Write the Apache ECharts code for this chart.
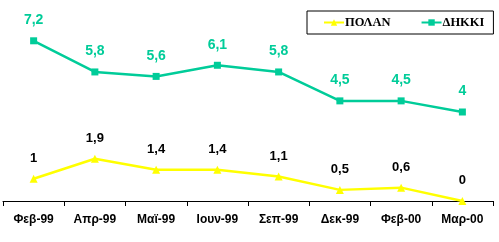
<!DOCTYPE html>
<html><head><meta charset="utf-8">
<script src="https://cdn.jsdelivr.net/npm/echarts@6/dist/echarts.min.js"></script>
<style>html,body{margin:0;padding:0;background:#fff}#c{width:499px;height:242px}</style>
</head><body><div id="c"></div>
<script>
var categories = ['Φεβ-99','Απρ-99','Μαϊ-99','Ιουν-99','Σεπ-99','Δεκ-99','Φεβ-00','Μαρ-00'];
var polan = [1, 1.9, 1.4, 1.4, 1.1, 0.5, 0.6, 0];
var dikki = [7.2, 5.8, 5.6, 6.1, 5.8, 4.5, 4.5, 4];
var seriesNames = ['ΠΟΛΑΝ', 'ΔΗΚΚΙ'];

var fmt = function(p){ return String(p.value).replace('.', ','); };
var chart = echarts.init(document.getElementById('c'), null, {renderer:'canvas'});
chart.setOption({
  animation:false,
  backgroundColor:'#fff',
  grid:{left:3, right:6, top:23, bottom:41, containLabel:false},
  legend:{
    left:307, top:11,
    padding:[5,9,5,16],
    itemGap:30, itemWidth:20, itemHeight:8,
    borderColor:'#000', borderWidth:1,
    textStyle:{fontFamily:'Liberation Serif', fontWeight:'bold', fontSize:12.5, color:'#000', padding:[0,0,0,-4]},
    data:seriesNames
  },
  xAxis:{
    type:'category', data:categories, boundaryGap:true,
    axisLine:{lineStyle:{color:'#000', width:1}},
    axisTick:{show:true, length:5, lineStyle:{color:'#000'}},
    axisLabel:{fontFamily:'Liberation Sans', fontWeight:'bold', fontSize:12, color:'#000', margin:13}
  },
  yAxis:{type:'value', min:0, max:8, show:false, splitLine:{show:false}},
  series:[
    {name:seriesNames[0], type:'line', data:polan, symbol:'triangle', symbolSize:8,
     itemStyle:{color:'#FFFF00'}, lineStyle:{color:'#FFFF00', width:2.5},
     label:{show:true, position:'top', distance:10, formatter:fmt, color:'#000',
            fontFamily:'Liberation Sans', fontWeight:'bold', fontSize:13}},
    {name:seriesNames[1], type:'line', data:dikki, symbol:'rect', symbolSize:7,
     itemStyle:{color:'#00CC99'}, lineStyle:{color:'#00CC99', width:2.5},
     label:{show:true, position:'top', distance:10, formatter:fmt, color:'#00CC99',
            fontFamily:'Liberation Sans', fontWeight:'bold', fontSize:14}}
  ]
});
</script></body></html>
